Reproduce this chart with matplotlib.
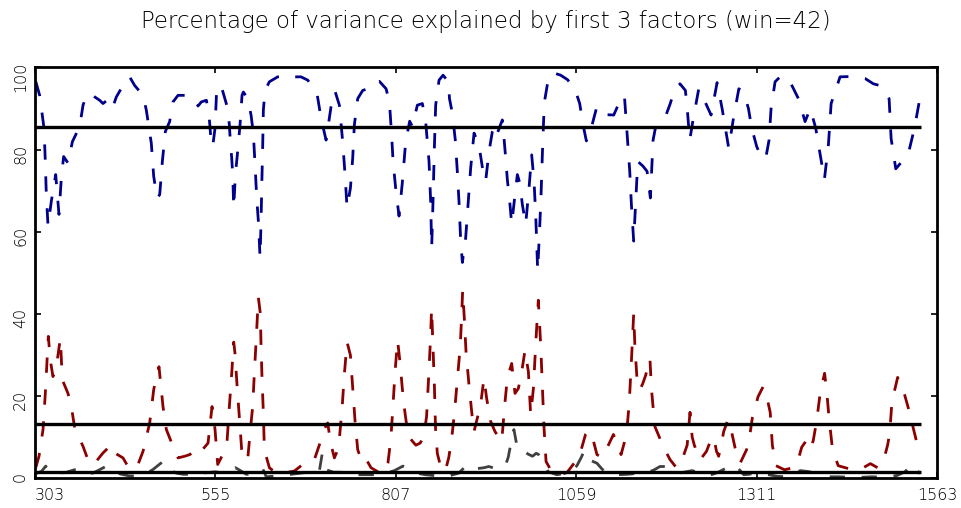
import numpy as np
import matplotlib
matplotlib.use("Agg")
import matplotlib.pyplot as plt

# factor 1 (blue)
f1_x = [304, 309.5, 315.6, 317.4, 318.8, 321.2, 325.8, 331.9, 336.5, 339.8, 343.0, 349.1, 355.2,
        365.4, 370.1, 375.6, 383.1, 393.3, 398, 403.6, 411.0, 416.6, 425.9, 435.2, 442.2, 453.9,
        458.5, 465.5, 468.8, 473.4, 477.2, 480.9, 485.1, 491.1, 495.8, 502.8, 514.4, 527, 530.7,
        535.4, 542.4, 546.1, 549.4, 551.2, 554.5, 556.8, 562.9, 572.2, 574.5, 575.9, 577.8, 579.2,
        580.6, 582.9, 585.2, 589.4, 592.2, 594.1, 600.1, 604.8, 608.0, 610.4, 612.7, 615.0, 617.4,
        618.8, 619.7, 621.1, 622.0, 624.3, 630.4, 642, 658.3, 665.3, 674.6, 684, 697, 702.6, 709.6,
        716.5, 722.1, 728.2, 732.8, 736.1, 738.9, 743.6, 746.8, 749.1, 753.8, 760.8, 767.8, 772.4,
        784.1, 793.4, 798.1, 801.3, 803.2, 806.8, 811.5, 816.1, 820.8, 826.4, 830.1, 837.1, 844.1,
        848.7, 853.4, 855.7, 857.1, 859, 860.8, 862.7, 867.4, 873, 880.4, 882, 886, 890, 893, 895.5,
        897.5, 900, 904.6, 908.3, 911.6, 916.3, 919.5, 924.2, 928.8, 932.5, 937.2, 941.9, 945.6,
        948.9, 955.8, 958.2, 960.5, 962.8, 966.1, 968.9, 973.5, 976.8, 980.1, 983.8, 988.4, 993.1,
        996.8, 1000.1, 1002.4, 1003.8, 1005.2, 1008, 1009.9, 1011.7, 1013.6, 1015.4, 1020.9, 1030.4,
        1037.3, 1047, 1057.8, 1063.9, 1068.6, 1073.2, 1078.8, 1087.2, 1092.8, 1100, 1111.4, 1118,
        1126.3, 1130, 1133.8, 1136.1, 1139.3, 1145, 1152, 1158, 1162.6, 1165, 1166.4, 1169.6, 1174.3,
        1183.6, 1190, 1196.2, 1204, 1211.5, 1213.9, 1217.6, 1222, 1230.2, 1238, 1247.4, 1255.8,
        1262.8, 1272.1, 1279, 1286.2, 1293, 1299.6, 1304.2, 1311.2, 1318.2, 1323.8, 1328.4, 1331.2,
        1336.8, 1343.8, 1355.4, 1369.4, 1378.7, 1386, 1393.6, 1401.1, 1405.7, 1411.3, 1415.1, 1427.6,
        1445, 1462.5, 1474.2, 1485, 1496.1, 1498.9, 1505.4, 1516.1, 1523.1, 1531.5, 1539.4]
f1_y = [96.6, 93.2, 85.2, 77.1, 69.0, 61.4, 67.4, 73.9, 64.2, 73.1, 78.3, 76.7, 81.9,
        85.6, 90.8, 93.6, 93.2, 92.0, 91.2, 92.0, 90.0, 92.8, 95.6, 97.7, 95.6, 93.2,
        89.6, 81.5, 73.5, 68.2, 69.0, 77.1, 84.4, 86.8, 91.6, 93.2, 93.2, 92.0, 90.6,
        91.6, 92.0, 88.4, 81.1, 80.7, 85.2, 94.8, 95.6, 90.0, 86.0, 81.9, 77.9, 73.9,
        65.8, 73.9, 77.9, 86.0, 93.2, 94.0, 92.4, 88.4, 83.9, 76.3, 68.2, 62.6, 53.7,
        62.6, 70.6, 81.1, 89.6, 94.4, 96.5, 97.7, 98.1, 97.7, 97.7, 96.9, 93.6, 87.6, 82.3,
        90.4, 94.2, 90.8, 81.9, 73.9, 65.8, 70.6, 77.9, 86.0, 92.4, 94.4, 94.8, 96.0,
        96.6, 94.8, 91.6, 83.1, 77.1, 70.6, 63.8, 71.9, 81.9, 86.9, 85.6, 90.8, 91.2,
        86.8, 77.1, 67.4, 56.1, 67.4, 79.9, 90.8, 96.9, 98.1, 96.5, 92.4, 88.8, 82.5, 74.5, 66.6,
        58.3, 52.5, 58.5, 67.4, 75.5, 84.0, 82.7, 79.9, 74.7, 72.3, 79.5, 84.4, 86.0,
        84.0, 87.2, 82.7, 77.9, 72.7, 67.4, 61.8, 69.0, 73.9, 71.9, 66.6, 61.8, 70.6,
        78.7, 72.3, 64.2, 57.7, 50.5, 61.0, 69.0, 78.7, 87.6, 92.4, 98.1, 98.5,
        98.1, 97.0, 94.4, 91.2, 86.0, 82.1, 84.4, 90.0, 90.4, 88.5, 88.4, 91.0,
        93.2, 84.0, 74.7, 66.6, 57.7, 77.1, 76.0, 74.7, 68.2, 77.1, 82.3, 85.2, 86.4,
        88.0, 91.0, 94.4, 96.0, 94.4, 90.4, 82.3, 87.0, 94.8, 92.0, 88.4, 96.3,
        90.0, 80.3, 88.0, 94.8, 94.0, 90.0, 85.2, 80.7, 77.9, 77.9, 82.3, 90.0,
        96.5, 97.7, 97.3, 92.4, 86.8, 90.0, 85.2, 77.5, 72.7, 81.1, 91.2, 97.7,
        97.8, 97.3, 96.0, 95.5, 92.4, 82.7, 75.3, 77.5, 79.1, 85.2, 92.8]

# factor 2 (dark red)
f2_x = [304, 308.6, 314.2, 317.4, 319.8, 321.6, 324.4, 328.1, 332.8, 338.4, 341.2, 349.1, 353.8,
        358.4, 370.1, 379.4, 388.7, 398, 409.6, 414.3, 425.9, 435.2, 446.9, 453.9, 463.2, 468.8,
        472.5, 476.2, 481.8, 486.5, 491.1, 496.7, 502.8, 512.1, 519.1, 528.4, 533.1, 544.7, 550.3,
        554.5, 558.2, 562.9, 567, 571.3, 574.5, 577.8, 580.6, 582.4, 585.2, 588.5, 591.7, 595.5,
        600.1, 603.9, 607.1, 609.4, 612.2, 615.0, 617.8, 618.8, 620.2, 622.0, 623.4, 630.4, 642,
        653.7, 665.3, 677, 688.6, 693.3, 700.3, 707.2, 711.9, 716, 721.2, 727, 732, 735, 738.9,
        743.6, 746.8, 750.1, 753.8, 758.5, 763.1, 772.4, 784.1, 791.1, 796, 800, 802.5, 806, 809.5,
        813, 816, 819, 824, 830, 835, 841, 846, 850, 853, 855.5, 857, 859, 861, 862.5, 865, 870,
        876, 881, 885, 889, 893, 897, 899, 900.4, 903, 905.1, 909.7, 914.4, 916.2, 920.9, 926,
        930.2, 933.9, 939.5, 945.6, 954.9, 959.6, 962.8, 968.9, 973.5, 978.2, 982.9, 987.5, 992.2,
        995.4, 999.2, 1002.9, 1006.1, 1009.4, 1012.2, 1014.1, 1016.9, 1025, 1036.4, 1046, 1053,
        1060, 1066, 1072, 1077, 1082.5, 1088, 1095, 1102, 1111, 1116, 1121.7, 1126, 1130, 1133,
        1136, 1139.3, 1141, 1144, 1148, 1152, 1156, 1162, 1164, 1166, 1169, 1175, 1181, 1190, 1199,
        1206, 1214, 1218, 1221, 1224, 1232, 1241, 1248, 1251, 1255, 1258, 1262, 1265, 1271, 1276,
        1281, 1288, 1297, 1302, 1305, 1313, 1320, 1325, 1330, 1333, 1338, 1350, 1362, 1370, 1374,
        1380, 1385, 1390, 1395, 1400, 1406, 1409, 1412, 1417, 1425, 1445, 1460, 1470, 1480, 1488,
        1494, 1497, 1500, 1508, 1515, 1523, 1530, 1535, 1540]
f2_y = [2.5, 5.3, 11.8, 20.6, 28.7, 34.5, 28.7, 24.7, 27.1, 34.0, 23.9, 20.6, 17.4,
        12.2, 7.7, 3.3, 4.1, 6.1, 8.1, 6.1, 4.9, 2.1, 3.3, 6.5, 13.4, 21.5,
        24.7, 27.1, 17.4, 11.8, 9.8, 7.3, 4.9, 5.3, 5.7, 6.9, 6.1, 8.5, 17.4,
        11.8, 3.3, 4.9, 6.5, 9.0, 17.4, 25.5, 33.1, 30.3, 22.7, 14.6, 6.9, 4.5,
        4.5, 11.8, 17.4, 25.5, 34.4, 44.0, 40.0, 31.9, 23.9, 15.8, 6.9, 2.5, 0.9,
        1.3, 1.7, 3.3, 4.5, 4.5, 8.1, 12.0, 13.4, 8.5, 4.9, 7.3, 17.0, 25.0, 33.1,
        29.9, 21.9, 13.8, 6.9, 4.5, 5.3, 2.5, 1.3, 1.3, 3.6, 9.5, 16.0, 26.0, 33.5,
        28.0, 22.0, 17.0, 10.5, 9.0, 8.0, 8.5, 10.0, 15.0, 25.0, 34.0, 41.3, 32.0, 22.0, 12.0, 6.0, 2.5,
        1.6, 5.0, 9.5, 16.0, 24.0, 32.0, 39.5, 45.7, 38.0, 30.7, 21.8, 13.8, 11.3, 14.6, 18.6,
        24.3, 19.4, 13.8, 11.3, 8.9, 18.6, 24.3, 27.9, 20.6, 21.8, 25.9, 31.1, 25.9,
        15.4, 21.8, 34.0, 43.3, 32.4, 20.2, 12.1, 4.0, 1.5, 0.8, 1.3, 2.9,
        4.5, 6.9, 10.6, 11.5, 9.4, 5.7, 5.0, 7.3, 10.6, 8.5, 5.7, 8.5, 12.2, 18.0,
        28.0, 40.0, 32.0, 24.0, 21.5, 23.0, 25.0, 29.1, 22.0, 18.0, 12.5, 10.0, 7.5, 4.5, 2.5,
        4.0, 8.0, 16.0, 10.0, 8.0, 4.4, 6.5, 9.7, 10.0, 6.5, 5.3, 8.5, 11.3, 14.2, 11.3,
        7.3, 3.6, 6.9, 11.0, 14.6, 19.8, 22.2, 20.0, 16.0, 8.0, 3.0, 2.0, 2.5, 5.0, 7.5,
        9.0, 7.0, 9.0, 14.0, 21.0, 25.5, 21.0, 15.0, 7.0, 3.0, 2.0, 2.5, 3.5, 2.5, 4.0,
        8.0, 11.0, 18.5, 24.5, 22.0, 17.0, 12.0, 8.5, 6.0]

# factor 3 (dark grey)
f3_x = [303, 312, 318, 322, 330, 345, 358, 366, 375, 384, 395, 403, 412, 424, 435, 445, 458, 468,
        478, 483, 490, 500, 510, 520, 530, 543, 555, 567, 576, 583, 590, 598, 610, 621, 626, 640,
        661, 679, 690, 700, 704, 707, 710, 720, 734, 752, 765, 776, 794, 805, 817, 827, 836, 848,
        860, 879, 895, 907, 914, 921, 930, 937, 946, 956, 961, 964, 967, 972, 976, 980, 986, 992,
        998, 1003, 1006, 1010, 1014, 1020, 1032, 1045, 1053, 1060, 1066, 1070, 1074, 1080, 1088,
        1095, 1102, 1115, 1130, 1149, 1160, 1167, 1176, 1184, 1192, 1202, 1212, 1221, 1232, 1246,
        1256, 1265, 1273, 1281, 1287, 1293, 1300, 1309, 1318, 1328, 1340, 1353, 1362, 1372, 1382,
        1393, 1404, 1414, 1425, 1439, 1450, 1460, 1472, 1486, 1497, 1507, 1518, 1530, 1535, 1539]
f3_y = [1.0, 1.6, 2.9, 1.8, 1.2, 1.3, 2.0, 2.1, 1.0, 1.2, 2.2, 2.9, 1.5, 0.9, 0.5, 0.5, 1.0, 2.1,
        3.5, 4.1, 2.2, 1.2, 0.9, 0.9, 1.0, 1.3, 1.5, 1.2, 1.8, 2.5, 1.8, 0.9, 1.0, 2.3, 0.3, 0.5,
        0.9, 1.3, 1.0, 1.5, 5.7, 4.0, 2.0, 1.4, 1.4, 0.8, 0.8, 0.8, 1.2, 1.8, 2.9, 2.0, 1.2, 0.8,
        0.6, 0.4, 1.2, 3.3, 2.8, 2.3, 2.5, 2.8, 2.3, 2.4, 3.5, 5.0, 7.7, 11.8, 8.0, 6.5, 6.5, 5.8,
        5.3, 6.0, 5.8, 4.5, 3.3, 1.5, 0.8, 1.2, 1.8, 3.0, 5.0, 6.5, 4.5, 4.2, 3.6,
        2.2, 1.1, 0.8, 0.9, 1.2, 1.5, 1.9, 2.8, 2.8, 1.8, 1.2, 1.5, 1.8, 1.2, 0.7,
        1.3, 2.1, 2.8, 3.2, 2.0, 0.8, 0.9, 1.2, 1.0, 0.8, 0.4, 0.3, 1.0, 1.8, 1.6,
        1.2, 0.6, 0.3, 0.3, 0.2, 0.2, 0.2, 0.3, 0.2, 0.4, 0.6, 1.5, 3.4, 2.0, 1.0]

means = [85.4, 13.1, 1.5]  # horizontal reference lines
xticks = [303, 555, 807, 1059, 1311, 1563]
yticks = [0, 20, 40, 60, 80, 100]

plt.rcParams['font.family'] = ['DejaVu Sans']

fig = plt.figure(figsize=(9.62, 5.08), dpi=100)
ax = fig.add_axes([35/962, 1 - 478/508, 902/962, 411/508])

dash = (0, (5.5, 6))
ax.plot(f1_x, f1_y, color='#00008b', lw=2.0, linestyle=dash)
ax.plot(f2_x, f2_y, color='#8b0000', lw=2.0, linestyle=dash)
ax.plot(f3_x, f3_y, color='#404040', lw=2.0, linestyle=dash)
ax.hlines(means, f1_x[0] - 1, f2_x[-1], colors='black', lw=2.4)

ax.set_xlim(303, 1563)
ax.set_ylim(0.5, 100.1)
ax.set_xticks(xticks)
ax.set_yticks(yticks)
ax.set_xticklabels([str(t) for t in xticks])
ax.tick_params(direction='in', length=4.5, width=1.2, top=True, right=True,
               labelsize=11.5, pad=7)
ax.tick_params(axis='y', labelrotation=90, pad=5)
ax.get_xticklabels()[0].set_ha('left')
for lab in ax.get_xticklabels() + ax.get_yticklabels():
    lab.set_fontweight('light')
for s in ax.spines.values():
    s.set_linewidth(2.0)

ax.set_title("Percentage of variance explained by first 3 factors (win=42)",
             fontsize=16.5, fontweight='light', pad=28)

fig.savefig("out.png", dpi=100)
